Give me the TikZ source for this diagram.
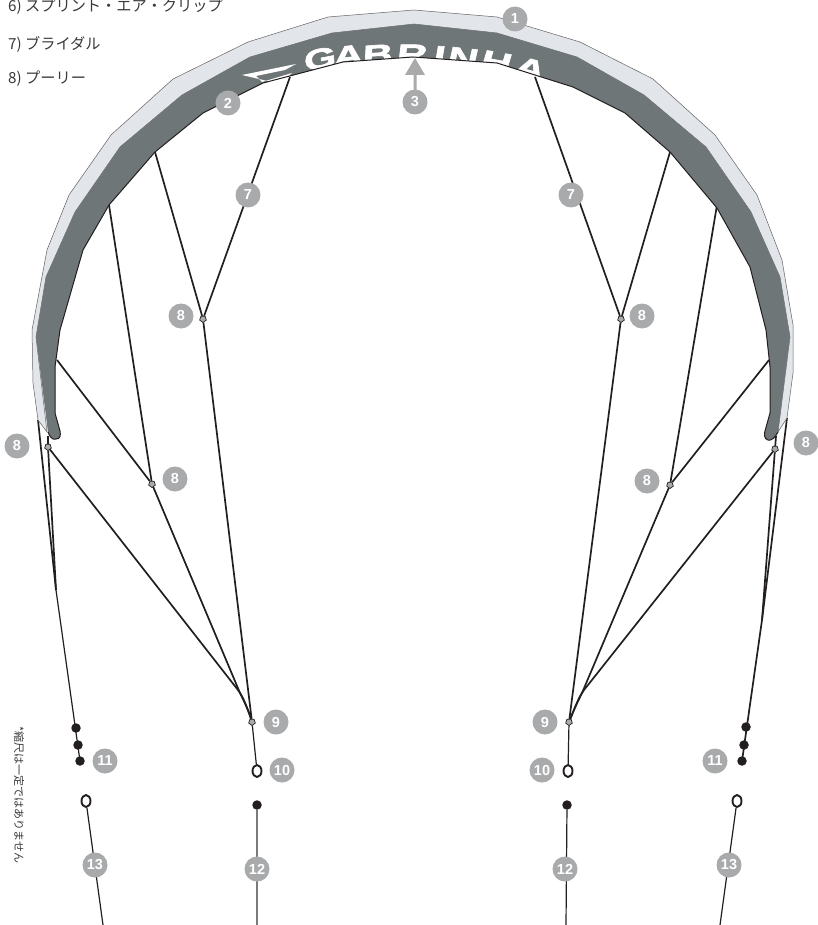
\documentclass[tikz,border=0pt]{standalone}
\usepackage{fontspec}
\setmainfont{Liberation Sans}
\newfontfamily\cjk{Noto Sans CJK JP}
\newfontfamily\logofont{Liberation Sans Bold}[FakeBold=2.2,FakeStretch=1.5,FakeSlant=0.12]
\usetikzlibrary{shapes.geometric}
\definecolor{badge}{HTML}{A9AAAC}
\definecolor{wingdark}{HTML}{6F7678}
\definecolor{winglight}{HTML}{E2E5EA}
\definecolor{ink}{HTML}{231F20}
\definecolor{textgrey}{HTML}{3A3A3A}
\tikzset{
  num/.style={circle,fill=badge,text=white,inner sep=0pt,minimum size=25pt,font=\fontsize{14.5}{14.5}\selectfont\bfseries},
  bridle/.style={draw=ink,line width=1.7pt},
  thinline/.style={draw=ink,line width=1.2pt},
  pulley/.style={regular polygon,regular polygon sides=5,shape border rotate=180,draw=ink,fill=badge,line width=.7pt,inner sep=0pt,minimum size=7pt},
  blackdot/.style={circle,fill=ink,inner sep=0pt,minimum size=9.5pt},
  ring/.style={ellipse,draw=ink,fill=white,line width=1.9pt,inner sep=0pt,minimum width=9pt,minimum height=12pt},
  listtext/.style={anchor=west,inner sep=0pt,text=textgrey,font=\fontsize{15.2}{16}\selectfont\cjk},
  logo/.style={text=white,inner sep=0pt,anchor=north,font=\fontsize{28}{28}\selectfont\logofont}
}
\begin{document}
\begin{tikzpicture}[x=1pt,y=-1pt]
\useasboundingbox (0,0) rectangle (817,925);
\fill[white] (0,0) rectangle (817,925);
% named points
\coordinate (LA) at (290,77); \coordinate (LB) at (155,152); \coordinate (LC) at (109,205); \coordinate (LD) at (57,360);
\coordinate (LT) at (38,420); \coordinate (LJ) at (56,590); \coordinate (LE) at (80,761);
\coordinate (LM) at (238,690); \coordinate (LN) at (240,693);
\coordinate (RA) at (535,77); \coordinate (RB) at (670,152); \coordinate (RC) at (717,205); \coordinate (RD) at (769,360);
\coordinate (RT) at (787,418); \coordinate (RJ) at (762,620); \coordinate (RE) at (742,761);
\coordinate (RM) at (584,690); \coordinate (RN) at (582,693);
\coordinate (LS) at (257,925); \coordinate (RS) at (566,925);
\coordinate (LQ) at (103,925); \coordinate (RQ) at (720,925);
\coordinate (LW) at (48,436); \coordinate (RW) at (776,436);
% pulleys and ends
\node[pulley] (P1L) at (203,319) {};
\node[pulley] (P2L) at (152,484) {};
\node[pulley] (P3L) at (48,447) {};
\node[pulley] (P9L) at (252,722) {};
\node[pulley] (P1R) at (621,319) {};
\node[pulley] (P2R) at (670,485) {};
\node[pulley] (P3R) at (775,449) {};
\node[pulley] (P9R) at (569,722) {};
\node[ring] (R10L) at (257,771) {};
\node[ring] (R10R) at (568,771) {};
\node[ring] (R13L) at (86,801) {};
\node[ring] (R13R) at (737,801) {};
\node[blackdot] (D12L) at (257,805) {};
\node[blackdot] (D12R) at (567,805) {};
\node[blackdot] (D1L) at (76,728) {};
\node[blackdot] (D2L) at (78,745) {};
\node[blackdot] (D3L) at (80,761) {};
\node[blackdot] (D1R) at (746,727) {};
\node[blackdot] (D2R) at (744,745) {};
\node[blackdot] (D3R) at (742,761) {};
% bridles left
\draw[bridle] (LA) -- (P1L);
\draw[bridle] (LB) -- (P1L);
\draw[bridle] (P1L) -- (P9L);
\draw[bridle] (LC) -- (P2L);
\draw[bridle] (LD) -- (P2L);
\draw[bridle] (P2L) -- (LN) .. controls (245,703) and (249,712) .. (P9L);
\draw[bridle] (P3L) -- (LM) .. controls (244,698) and (248,710) .. (P9L);
\draw[bridle] (LW) -- (P3L);
\draw[bridle] (LT) -- (LJ);
\draw[bridle] (P3L) -- (LJ);
\draw[thinline] (LJ) -- (LE);
\draw[thinline] (P9L) -- (R10L);
\draw[thinline] (R13L) -- (LQ);
\draw[draw=ink!60!white,line width=1.3pt] (D12L) -- (LS);
% bridles right
\draw[bridle] (RA) -- (P1R);
\draw[bridle] (RB) -- (P1R);
\draw[bridle] (P1R) -- (P9R);
\draw[bridle] (RC) -- (P2R);
\draw[bridle] (RD) -- (P2R);
\draw[bridle] (P2R) -- (RN) .. controls (577,703) and (573,712) .. (P9R);
\draw[bridle] (P3R) -- (RM) .. controls (578,698) and (574,710) .. (P9R);
\draw[bridle] (RW) -- (P3R);
\draw[bridle] (RT) -- (RJ);
\draw[bridle] (P3R) -- (RJ);
\draw[bridle] (RJ) -- (RE);
\draw[thinline] (P9R) -- (R10R);
\draw[thinline] (R13R) -- (RQ);
\draw[thinline] (D12R) -- (RS);
% wing light band
\path[fill=winglight,draw=ink!70!white,line width=.5pt]
 (47,432) -- (38,420) -- (33,383) -- (32,330) -- (47,250) -- (69,195) -- (111,135) -- (173,79) -- (248,42) -- (328,17) -- (414,10) -- (497,17) -- (580,42) -- (653,79) -- (715,135) -- (757,195) -- (782,260) -- (793,325) -- (793,373) -- (787,418) -- (778,432) -- (790,337) -- (780,277) -- (751,212) -- (706,147) -- (644,95) -- (577,57) -- (497,33) -- (414,24) -- (332,33) -- (250,57) -- (182,95) -- (120,147) -- (75,212) -- (46,277) -- (36,337) -- cycle;
% wing dark band
\path[fill=wingdark]
 (48,432) -- (36,337) -- (46,277) -- (75,212) -- (120,147) -- (182,95) -- (250,57) -- (332,33) -- (414,24) -- (497,33) -- (577,57) -- (644,95) -- (706,147) -- (751,212) -- (780,277) -- (790,337) -- (778,432)
 .. controls (775,438) and (771,441) .. (768,440) .. controls (764,439) and (764,434) .. (765,431) -- (770,413) -- (770,367) -- (766,330) -- (750,267) -- (717,208) -- (670,152) -- (625,113) -- (573,87) -- (497,63) -- (413,57) -- (343,62) -- (263,83) -- (203,113) -- (155,152) -- (109,205) -- (83,250) -- (60,330) -- (55,367) -- (55,413)
 -- (60,431) .. controls (61,436) and (60,439) .. (56,439) .. controls (52,440) and (50,437) .. (48,432) -- cycle;
% logo, clipped to wing
\begin{scope}
\clip (48,432) -- (36,337) -- (46,277) -- (75,212) -- (120,147) -- (182,95) -- (250,57) -- (332,33) -- (414,24) -- (497,33) -- (577,57) -- (644,95) -- (706,147) -- (751,212) -- (780,277) -- (790,337) -- (778,432) -- (770,413) -- (770,367) -- (766,330) -- (750,267) -- (717,208) -- (670,152) -- (625,113) -- (573,87) -- (497,63) -- (413,57) -- (343,62) -- (263,83) -- (203,113) -- (155,152) -- (109,205) -- (83,250) -- (60,330) -- (55,367) -- (55,413) -- cycle;
\fill[white] (242,75) -- (296,64) -- (285,70) -- (256,76) -- (262,82) -- (292,73) -- (280,84) -- cycle;
\node[logo,rotate=11] (lg1) at (317,49) {G};
\node[logo,rotate=7] (lg2) at (346,46) {A};
\node[logo,rotate=4] (lg3) at (376,45) {B};
\node[logo,rotate=0] (lg4) at (411,44.5) {R};
\node[logo,rotate=-3] (lg5) at (439,46) {I};
\node[logo,rotate=-6] (lg6) at (463,48) {N};
\node[logo,rotate=-10] (lg7) at (497,52) {H};
\node[logo,rotate=-16] (lg8) at (532,59) {A};
\end{scope}
% inner edge stroke
\draw[ink,line width=1pt,line join=round]
 (778,432) .. controls (775,438) and (771,441) .. (768,440) .. controls (764,439) and (764,434) .. (765,431) -- (770,413) -- (770,367) -- (766,330) -- (750,267) -- (717,208) -- (670,152) -- (625,113) -- (573,87) -- (497,63) -- (413,57) -- (343,62) -- (263,83) -- (203,113) -- (155,152) -- (109,205) -- (83,250) -- (60,330) -- (55,367) -- (55,413) -- (60,431) .. controls (61,436) and (60,439) .. (56,439) .. controls (52,440) and (50,437) .. (48,432);
% arrow 3
\node[num] (n3) at (415,102) {3};
\fill[badge] (415,58) -- (425,75) -- (416.5,75) -- (416.5,92) -- (413.5,92) -- (413.5,75) -- (405,75) -- cycle;
% number badges
\node[num] (n1) at (515,19) {1};
\node[num] (n2) at (228,103) {2};
\node[num] (n7a) at (248,195) {7};
\node[num] (n7b) at (571,195) {7};
\node[num] (n8a) at (181,316) {8};
\node[num] (n8b) at (642,316) {8};
\node[num] (n8c) at (175,479) {8};
\node[num] (n8d) at (647,481) {8};
\node[num] (n8e) at (17,446) {8};
\node[num] (n8f) at (806,443) {8};
\node[num] (n9a) at (276,722) {9};
\node[num] (n9b) at (545,722) {9};
\node[num] (n10a) at (282,770) {10};
\node[num] (n10b) at (542,770) {10};
\node[num] (n11a) at (105,761) {11};
\node[num] (n11b) at (715,761) {11};
\node[num] (n12a) at (257,869) {12};
\node[num] (n12b) at (565,869) {12};
\node[num] (n13a) at (95,865) {13};
\node[num] (n13b) at (729,865) {13};
% texts
\node[listtext] (t6) at (8,7) {6) スプリント・エア・クリップ};
\node[listtext] (t7) at (8,44) {7) ブライダル};
\node[listtext] (t8) at (8,79) {8) プーリー};
\node[rotate=-90,anchor=west,inner sep=0pt,text=textgrey,font=\fontsize{11}{11}\selectfont\cjk] (note) at (19,726) {*縮尺は一定ではありません};
\end{tikzpicture}
\end{document}
